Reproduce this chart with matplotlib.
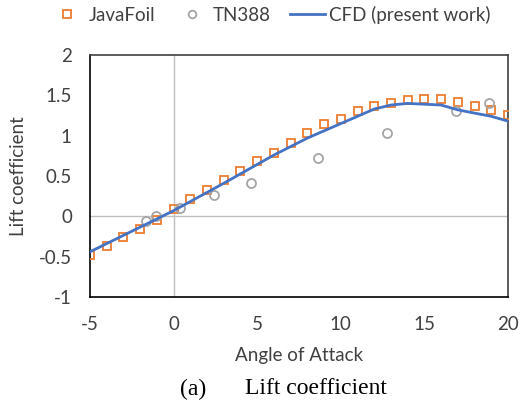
import numpy as np
import matplotlib.pyplot as plt

plt.rcParams['font.family'] = ['Lato', 'DejaVu Sans']
plt.rcParams['axes.unicode_minus'] = False

# JavaFoil (every degree from -5 to 20)
javafoil_aoa = list(range(-5, 21))
javafoil_cl = [-0.48, -0.37, -0.26, -0.16, -0.05, 0.09, 0.21, 0.33, 0.45, 0.56,
               0.68, 0.79, 0.91, 1.03, 1.14, 1.21, 1.31, 1.37, 1.40, 1.44,
               1.45, 1.45, 1.42, 1.37, 1.32, 1.26]

# TN388 experiment
tn388_aoa = [-1.65, -1.05, 0.38, 2.42, 4.65, 8.66, 12.75, 16.87, 18.88]
tn388_cl = [-0.06, 0.01, 0.10, 0.26, 0.41, 0.72, 1.03, 1.30, 1.41]

# CFD (present work)
cfd_aoa = [-5, 0, 3, 6, 8, 10, 12, 13, 14, 16, 17, 18, 19, 20]
cfd_cl = [-0.44, 0.07, 0.41, 0.76, 0.97, 1.15, 1.33, 1.38, 1.40, 1.38, 1.32, 1.28, 1.24, 1.18]

yticks = [-1, -0.5, 0, 0.5, 1, 1.5, 2]
ytick_labels = ['-1', '-0.5', '0', '0.5', '1', '1.5', '2']
xticks = [-5, 0, 5, 10, 15, 20]

text_col = '#404040'
fs = 13.5

fig = plt.figure(figsize=(5.22, 4.01), dpi=100)
ax = fig.add_axes([0.1724, 0.2594, 0.8008, 0.6034])

# Excel style axis lines through zero
ax.axhline(0, color='#BFBFBF', lw=1.0, zorder=1)
ax.axvline(0, color='#BFBFBF', lw=1.0, zorder=1)

ax.plot(javafoil_aoa, javafoil_cl, 's', ms=6.3, mfc='none', mec='#ED7D31', mew=1.3,
        label='JavaFoil', zorder=3)
ax.plot(tn388_aoa, tn388_cl, 'o', ms=6.5, mfc='none', mec='#A5A5A5', mew=1.3,
        label='TN388', zorder=3)
ax.plot(cfd_aoa, cfd_cl, '-', color='#4472C4', lw=2, label='CFD (present work)', zorder=4)

ax.set_xlim(-5, 20)
ax.set_ylim(-1, 2)
ax.set_xticks(xticks)
ax.set_yticks(yticks)
ax.set_yticklabels(ytick_labels)
ax.tick_params(axis='both', length=0, labelsize=fs, colors=text_col, pad=14)
ax.tick_params(axis='y', pad=13)
for s in ax.spines.values():
    s.set_color('#404040')
    s.set_linewidth(1.2)
ax.spines['left'].set_color('black')
ax.spines['bottom'].set_color('black')

ax.set_xlabel('Angle of Attack', fontsize=fs, color=text_col)
ax.set_ylabel('Lift coefficient', fontsize=fs, color=text_col)
ax.xaxis.set_label_coords(0.5, -0.205)
ax.yaxis.set_label_coords(-0.15, 0.5)

fig.legend(loc='center', bbox_to_anchor=(0.517, 0.963), ncol=3, frameon=False,
           fontsize=fs, handlelength=1.9, columnspacing=1.0, handletextpad=0.2,
           markerscale=0.85, labelcolor=text_col, borderpad=0)

fig.text(180 / 522, 0.03, '(a)', ha='left', va='center',
         fontsize=17, family='Liberation Serif')
fig.text(245 / 522, 0.03, 'Lift coefficient', ha='left', va='center',
         fontsize=17, family='Liberation Serif')

fig.savefig('out.png', dpi=100)
